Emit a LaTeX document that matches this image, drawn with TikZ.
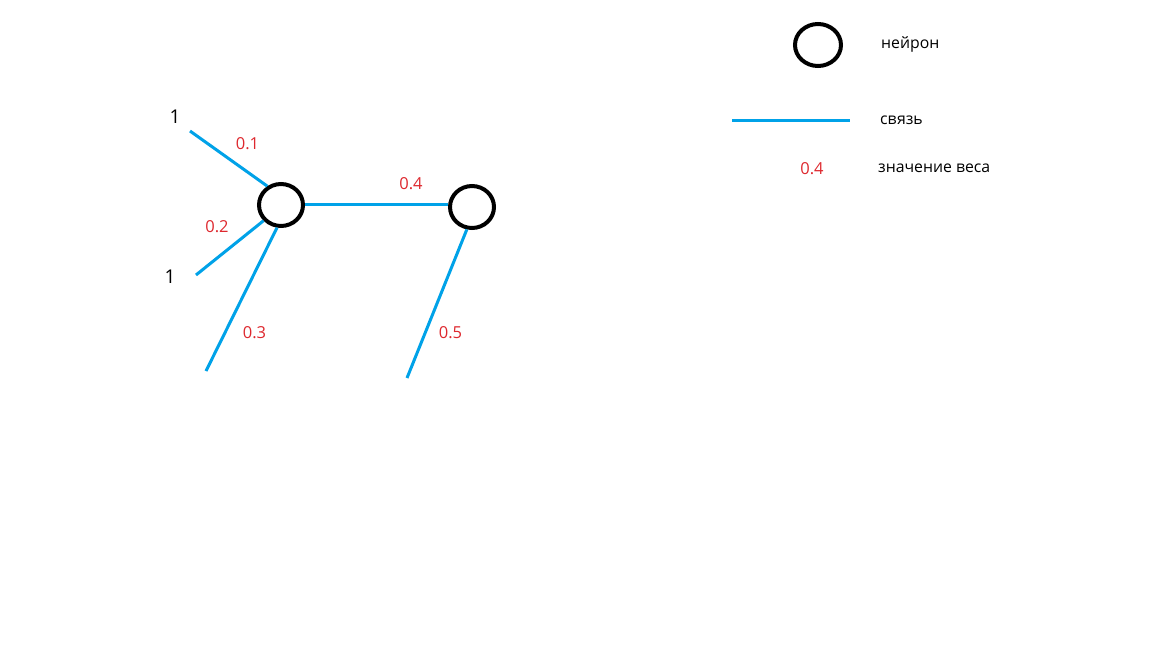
\documentclass[tikz,border=0pt]{standalone}
\usepackage{fontspec}
\setmainfont{Open Sans}
\usetikzlibrary{shapes.geometric}
\definecolor{linkblue}{RGB}{0,162,232}
\definecolor{wred}{RGB}{222,40,46}
\tikzset{
  neuron/.style={ellipse, draw=black, line width=4pt, minimum width=44pt, minimum height=42pt, inner sep=0pt},
  link/.style={draw=linkblue, line width=3pt},
  wlabel/.style={text=wred, font=\fontsize{16.5}{19}\selectfont, inner sep=0pt},
  inlabel/.style={text=black, font=\fontsize{19}{22}\selectfont, inner sep=0pt},
  legtext/.style={text=black, font=\fontsize{15.8}{18}\selectfont, inner sep=0pt, anchor=base west}
}
\begin{document}
\begin{tikzpicture}[x=1pt,y=-1pt]
\fill[white] (0,0) rectangle (1152,648);
\useasboundingbox (0,0) rectangle (1152,648);
% neurons
\node[neuron] (n1) at (281,205) {};
\node[neuron] (n2) at (472,207) {};
% free ends
\coordinate (i1) at (190,131);
\coordinate (i2) at (196,275);
\coordinate (i3) at (206,371);
\coordinate (i5) at (407,378);
\draw[link] (i1) -- (n1.126);
\draw[link] (i2) -- (n1.222);
\draw[link] (i3) -- (n1.260);
\draw[link] (n1.east |- 0,204) -- (n2.west |- 0,204);
\draw[link] (i5) -- (n2.257);
% input labels
\node[inlabel] (one1) at (175,116.5) {1};
\node[inlabel] (one2) at (170,276.5) {1};
% weights
\node[wlabel] (w1) at (247.5,144) {0.1};
\node[wlabel] (w2) at (217,227) {0.2};
\node[wlabel] (w3) at (254.5,332.5) {0.3};
\node[wlabel] (w4) at (411,183.5) {0.4};
\node[wlabel] (w5) at (450.5,332.5) {0.5};
% legend
\node[neuron, minimum width=46pt, minimum height=42pt] (ln) at (818,45) {};
\node[legtext] (lt1) at (881,48) {нейрон};
\coordinate (ll1) at (732,120);
\coordinate (ll2) at (850,120);
\draw[link] (ll1) -- (ll2);
\node[legtext] (lt2) at (880,124) {связь};
\node[wlabel] (lw) at (812,168.5) {0.4};
\node[legtext] (lt3) at (878,172) {значение веса};
\end{tikzpicture}
\end{document}
